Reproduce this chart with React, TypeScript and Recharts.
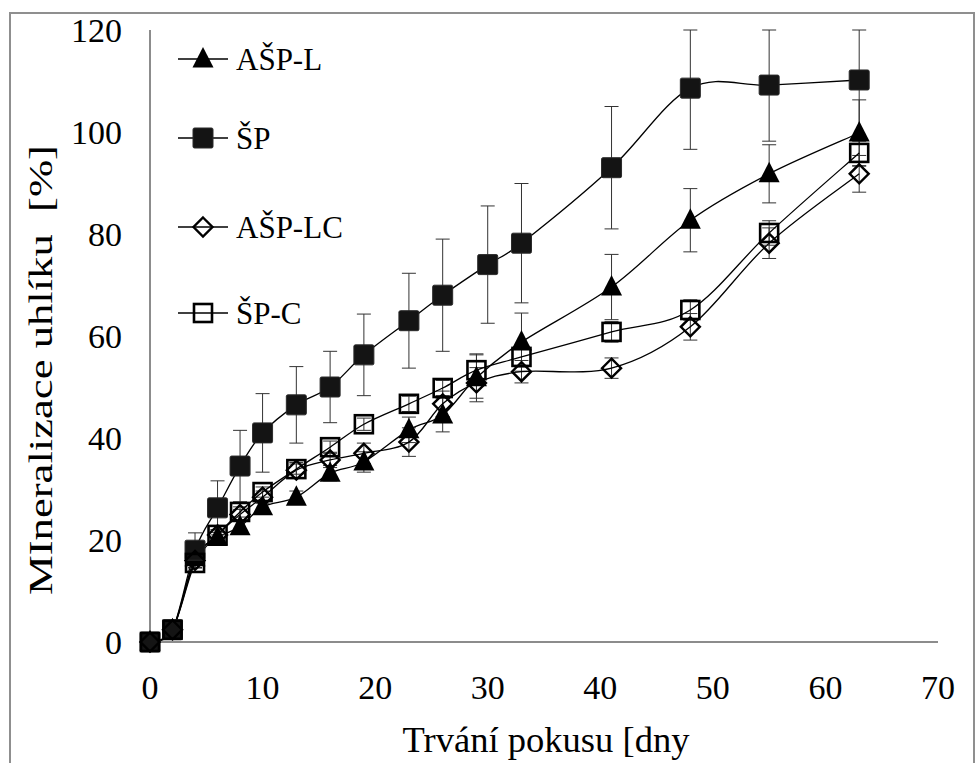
import React from "react";
import { LineChart, Line, XAxis, YAxis, ErrorBar, Legend } from "recharts";

// sampling days (ŠP was measured on day 30 instead of 29)
const DAYS = [0, 2, 4, 6, 8, 10, 13, 16, 19, 23, 26, 29, 33, 41, 48, 55, 63];
const DAYS_SP = [0, 2, 4, 6, 8, 10, 13, 16, 19, 23, 26, 30, 33, 41, 48, 55, 63];

// carbon mineralization [%] and standard deviations
const ASP_L = [0, 2.4, 16.5, 20.5, 22.6, 26.5, 28.4, 33.1, 35.3, 41.6, 44.5, 51.8, 58.8, 69.6, 82.7, 91.8, 99.8];
const ASP_L_ERR = [0, 0.5, 1, 1, 1.2, 1.2, 1.2, 1.5, 2, 2.5, 3.3, 4.7, 5.7, 6.4, 6.2, 5.7, 6.5];
const SP = [0, 2.4, 18, 26.3, 34.5, 41, 46.5, 50, 56.3, 63, 68, 74, 78.2, 93, 108.6, 109.2, 110.2];
const SP_ERR = [0, 0.5, 3.4, 5.3, 7, 7.7, 7.5, 7, 8, 9.3, 11, 11.5, 11.7, 12, 12, 11, 12];
const ASP_LC = [0, 2.4, 16, 21, 25, 28.4, 33.7, 35.7, 37, 39.2, 46.7, 50.8, 53, 53.7, 61.8, 78.2, 91.8];
const ASP_LC_ERR = [0, 0.5, 1, 1, 1, 1.2, 1.5, 1.5, 2, 2.8, 2.5, 3, 2.2, 2, 2.6, 3, 3.6];
const SP_C = [0, 2.4, 15.5, 21, 25.5, 29.4, 33.9, 38.2, 42.7, 46.7, 49.8, 53.3, 55.9, 60.8, 65.1, 80.2, 95.9];
const SP_C_ERR = [0, 0.5, 1, 1, 1, 1, 1, 1.2, 1.2, 1.5, 1.5, 3, 2, 2, 2, 2.4, 2.5];

const X_TICKS = [0, 10, 20, 30, 40, 50, 60, 70];
const Y_TICKS = [0, 20, 40, 60, 80, 100, 120];
const Y_MAX = 120;

const FONT = "Liberation Serif, Times New Roman, serif";

// error bars are cut at the top of the plot, like in the original figure
const build = (xs: number[], ys: number[], es: number[]) =>
  xs.map((x, i) => ({ x, y: ys[i], err: [es[i], Math.min(es[i], Y_MAX - ys[i])] }));

type Shape = "triangle" | "square" | "diamond" | "openSquare";

const SERIES: { name: string; shape: Shape; data: { x: number; y: number; err: number[] }[] }[] = [
  { name: "AŠP-L", shape: "triangle", data: build(DAYS, ASP_L, ASP_L_ERR) },
  { name: "ŠP", shape: "square", data: build(DAYS_SP, SP, SP_ERR) },
  { name: "AŠP-LC", shape: "diamond", data: build(DAYS, ASP_LC, ASP_LC_ERR) },
  { name: "ŠP-C", shape: "openSquare", data: build(DAYS, SP_C, SP_C_ERR) },
];

// Excel-like smoothing (Catmull-Rom as cubic bezier)
function excelCurve(context: any) {
  let pts: number[][] = [];
  return {
    areaStart() {},
    areaEnd() {},
    lineStart() {
      pts = [];
    },
    point(x: number, y: number) {
      pts.push([+x, +y]);
    },
    lineEnd() {
      if (!pts.length) return;
      context.moveTo(pts[0][0], pts[0][1]);
      for (let i = 0; i < pts.length - 1; i++) {
        const p0 = pts[i - 1] || pts[i];
        const p1 = pts[i];
        const p2 = pts[i + 1];
        const p3 = pts[i + 2] || p2;
        context.bezierCurveTo(
          p1[0] + (p2[0] - p0[0]) / 6,
          p1[1] + (p2[1] - p0[1]) / 6,
          p2[0] - (p3[0] - p1[0]) / 6,
          p2[1] - (p3[1] - p1[1]) / 6,
          p2[0],
          p2[1]
        );
      }
    },
  };
}

function Marker({ shape, cx, cy }: { shape: Shape; cx: number; cy: number }) {
  if (shape === "triangle") {
    return <polygon points={`${cx},${cy - 12} ${cx + 10.5},${cy + 8.5} ${cx - 10.5},${cy + 8.5}`} fill="#000" />;
  }
  if (shape === "square") {
    return <rect x={cx - 10} y={cy - 10} width={20} height={20} rx={1.5} fill="#141414" stroke="#2a2a2a" strokeWidth={1} />;
  }
  if (shape === "diamond") {
    return <polygon points={`${cx},${cy - 9.5} ${cx + 9.5},${cy} ${cx},${cy + 9.5} ${cx - 9.5},${cy}`} fill="none" stroke="#000" strokeWidth={2.4} />;
  }
  return <rect x={cx - 9} y={cy - 9} width={18} height={18} fill="none" stroke="#000" strokeWidth={2.6} />;
}

function LegendBox() {
  const rows = [29, 108, 197, 283];
  return (
    <svg width={220} height={310}>
      {SERIES.map((s, i) => (
        <g key={s.name}>
          <line x1={8} x2={58} y1={rows[i]} y2={rows[i]} stroke="#000" strokeWidth={1.3} />
          <Marker shape={s.shape} cx={33} cy={rows[i]} />
          <text x={66} y={rows[i]} dominantBaseline="central" style={{ fontFamily: FONT }} fontSize={31} fill="#000">
            {s.name}
          </text>
        </g>
      ))}
    </svg>
  );
}

export default function App() {
  return (
    <div
      style={{
        position: "absolute",
        left: 0,
        top: 0,
        width: 979,
        height: 763,
        background: "#fff",
        fontFamily: FONT,
      }}
    >
      <div
        style={{
          position: "absolute",
          left: 9,
          top: 12,
          width: 966,
          height: 770,
          border: "2px solid #8f8f8f",
          boxSizing: "border-box",
        }}
      />
      <LineChart width={979} height={763} margin={{ top: 30, right: 41, bottom: 0, left: 0 }} style={{ fontFamily: FONT }}>
        <XAxis
          dataKey="x"
          type="number"
          domain={[0, 70]}
          ticks={X_TICKS}
          height={121}
          stroke="#8c8c8c"
          strokeWidth={2}
          tickLine={false}
          tickSize={31}
          tickMargin={2}
          tick={{ fill: "#000", fontSize: 34, style: { fontFamily: FONT } }}
          label={{
            content: () => (
              <text
                x={546}
                y={740}
                textAnchor="middle"
                dominantBaseline="central"
                textLength={287}
                lengthAdjust="spacingAndGlyphs"
                style={{ fontFamily: FONT }}
                fontSize={35}
                fill="#000"
              >
                Trvání pokusu [dny
              </text>
            ),
          }}
        />
        <YAxis
          dataKey="y"
          type="number"
          domain={[0, Y_MAX]}
          ticks={Y_TICKS}
          width={150}
          stroke="#8c8c8c"
          strokeWidth={2}
          tickLine={false}
          tickSize={26}
          tickMargin={2}
          tick={{ fill: "#000", fontSize: 34, style: { fontFamily: FONT } }}
          label={{
            content: () => (
              <text
                x={40}
                y={370}
                transform="rotate(-90 40 370)"
                textAnchor="middle"
                dominantBaseline="central"
                textLength={450}
                lengthAdjust="spacingAndGlyphs"
                fontSize={34}
                fill="#000"
                style={{ whiteSpace: "pre", fontFamily: FONT }}
              >
                MIneralizace uhlíku  [%]
              </text>
            ),
          }}
        />
        <Legend
          layout="vertical"
          align="center"
          verticalAlign="middle"
          wrapperStyle={{ left: 170, top: 30, width: 220, height: 310 }}
          content={() => <LegendBox />}
        />
        {SERIES.map((s) => (
          <Line
            key={s.name}
            data={s.data}
            dataKey="y"
            name={s.name}
            type={excelCurve as any}
            stroke="#000"
            strokeWidth={1.3}
            isAnimationActive={false}
            dot={(p: any) => <Marker key={`${s.name}-${p.index}`} shape={s.shape} cx={p.cx} cy={p.cy} />}
            activeDot={false}
          >
            <ErrorBar dataKey="err" direction="y" width={7} stroke="#333" strokeWidth={1} />
          </Line>
        ))}
      </LineChart>
    </div>
  );
}
